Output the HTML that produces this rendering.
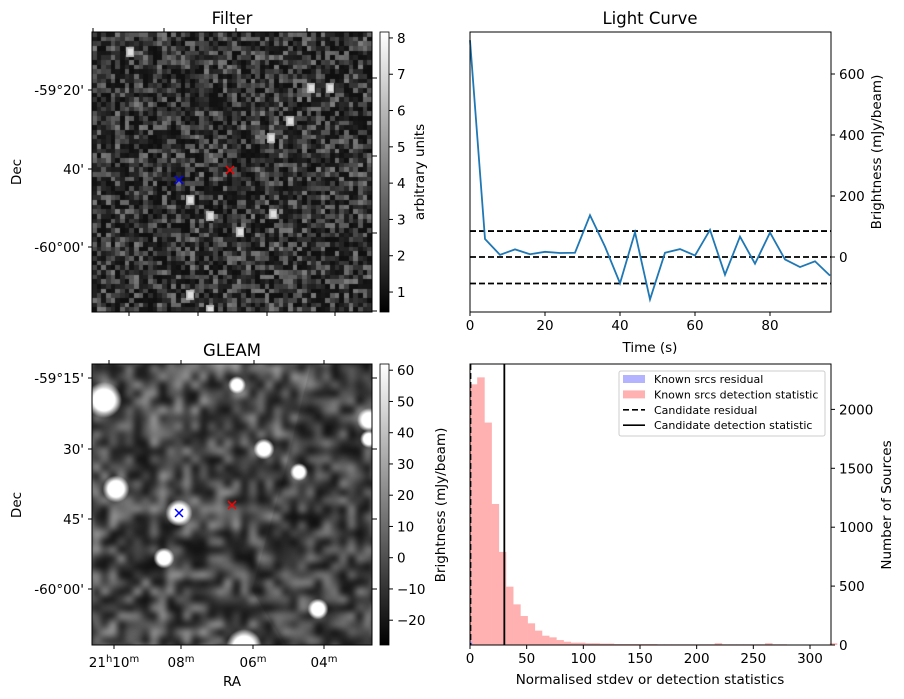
<!DOCTYPE html>
<html><head><meta charset="utf-8"><style>
body{margin:0;background:#fff;width:904px;height:699px;overflow:hidden;position:relative;font-family:"Liberation Sans","DejaVu Sans",sans-serif}
canvas{position:absolute}
svg{position:absolute;left:0;top:0}
text{font-family:"DejaVu Sans","Liberation Sans",sans-serif;fill:#000}
</style></head><body>
<canvas id="filterImg" width="280" height="280" style="left:92px;top:32px"></canvas>
<canvas id="gleamImg" width="280" height="281" style="left:92px;top:364px"></canvas>
<svg id="fig" width="904" height="699" viewBox="0 0 904 699">
<defs><linearGradient id="cb" x1="0" y1="1" x2="0" y2="0"><stop offset="0" stop-color="#000"/><stop offset="1" stop-color="#fff"/></linearGradient></defs>
<g id="g"></g>
</svg>
<script>
// ---- Light curve data ----
const lcTimes=[0,4,8,12,16,20,24,28,32,36,40,44,48,52,56,60,64,68,72,76,80,84,88,92,96];
const lcValues=[711,59,7,25,9,17,13,14,137,34,-86,81,-139,14,26,5,89,-58,67,-22,80,-8,-33,-14,-61];
const lcThresholds=[85,0,-87];
const lcXTicks=[0,20,40,60,80];
const lcYTicks=[0,200,400,600];
// ---- Histogram data ----
const histBinWidth=6.35;
const histCounts=[2213,2272,1888,1197,790,495,345,246,184,122,79,65,42,28,20,20,15,15,12,12,8,8,8,8,8,8,6,6,6,6,6,6,6,6,15,6,6,6,6,6,6,15,6,6,0,0,0,0,0,0,15];
const residCounts=[30,5];
const candResidual=0.5;
const candDetection=30.3;
const histXTicks=[0,50,100,150,200,250,300];
const histYTicks=[0,500,1000,1500,2000];
const filterCbTicks=[1,2,3,4,5,6,7,8];
const gleamCbTicks=[-20,-10,0,10,20,30,40,50,60];

const NS='http://www.w3.org/2000/svg';
const G=document.getElementById('g');
function el(tag,attrs,parent){const e=document.createElementNS(NS,tag);for(const k in attrs)e.setAttribute(k,attrs[k]);(parent||G).appendChild(e);return e;}
function txt(x,y,s,size,anchor,extra){const t=el('text',Object.assign({x:x,y:y,'font-size':size,'text-anchor':anchor||'middle'},extra||{}));t.textContent=s;return t;}

// textures (seeded)
let seed=12345;function rnd(){seed=(seed*1103515245+12345)&0x7fffffff;return seed/0x7fffffff;}
(function(){const c=document.getElementById('filterImg').getContext('2d');const n=60,s=280/n;
const tmp=document.createElement('canvas');tmp.width=n;tmp.height=n;const t=tmp.getContext('2d');
for(let i=0;i<n;i++)for(let j=0;j<n;j++){const r=rnd();const v=Math.round(15+110*Math.pow(r,2.0));t.fillStyle=`rgb(${v},${v},${v})`;t.fillRect(i,j,1,1);}
c.imageSmoothingEnabled=false;c.drawImage(tmp,0,0,280,280);
[[271-92,138-32],[311-92,88-32],[330-92,88-32],[210-92,216-32],[190-92,200-32],[273-92,214-32],[130-92,52-32],[190-92,295-32],[210-92,310-32],[290-92,121-32],[240-92,232-32]].forEach(p=>{c.fillStyle='#bbb';c.fillRect(p[0]-4,p[1]-5,8,10);c.fillStyle='#e0e0e0';c.fillRect(p[0]-2,p[1]-3,5,6);});
})();
(function(){const cv=document.getElementById('gleamImg');const c=cv.getContext('2d');const n=36;
const tmp=document.createElement('canvas');tmp.width=n;tmp.height=n;const t=tmp.getContext('2d');
for(let i=0;i<n;i++)for(let j=0;j<n;j++){const v=Math.round(15+150*Math.pow(rnd(),1.5));t.fillStyle=`rgb(${v},${v},${v})`;t.fillRect(i,j,1,1);}
c.imageSmoothingEnabled=true;c.filter='blur(2px)';c.drawImage(tmp,-8,-8,296,297);c.filter='none';
c.fillStyle='rgba(0,0,0,0.12)';c.beginPath();c.moveTo(219,0);c.lineTo(193,106);c.lineTo(160,226);c.lineTo(193,281);c.lineTo(280,281);c.lineTo(280,0);c.fill();
const blobs=[[12,36,12],[24,125,9],[145,21,6],[172,85,7],[207,108,6],[72,194,7],[226,245,7],[152,283,12],[277,56,8],[277,75,6],[87,149,9]];
blobs.forEach(b=>{const g=c.createRadialGradient(b[0],b[1],0,b[0],b[1],b[2]*1.5);g.addColorStop(0,'#fff');g.addColorStop(0.6,'#fff');g.addColorStop(1,'rgba(255,255,255,0)');c.fillStyle=g;c.beginPath();c.arc(b[0],b[1],b[2]*1.5,0,7);c.fill();});
})();

function cross(x,y,col,name){const g=el('g',{});
el('line',{x1:x-4,y1:y-4,x2:x+4,y2:y+4,stroke:col,'stroke-width':1.5},g);el('line',{x1:x-4,y1:y+4,x2:x+4,y2:y-4,stroke:col,'stroke-width':1.5},g);}

// ===== Filter panel =====
el('rect',{x:92,y:32,width:280,height:280,fill:'none',stroke:'#000','stroke-width':1});
txt(232,24,'Filter',16.5);
[93,164,236,307].forEach(x=>el('line',{x1:x,y1:32,x2:x,y2:28,stroke:'#000'}));
[129,198,267,335].forEach(x=>el('line',{x1:x,y1:312,x2:x,y2:316,stroke:'#000'}));
[[90,"-59°20'"],[169,"40'"],[247,"-60°00'"]].forEach(d=>{el('line',{x1:92,y1:d[0],x2:88,y2:d[0],stroke:'#000'});txt(84,d[0]+5,d[1],13.5,'end');});
[78,156,233,311].forEach(y=>el('line',{x1:372,y1:y,x2:377,y2:y,stroke:'#000'}));
txt(21,172,'Dec',13.5,'middle',{transform:'rotate(-90 21 172)'});
cross(179,180,'#00f','candidate-marker-blue');cross(230,170,'#f00','candidate-marker-red');
el('rect',{x:380,y:32,width:9,height:280,fill:'url(#cb)',stroke:'#000','stroke-width':0.8});
filterCbTicks.forEach(v=>{const y=312-(v-0.45)*36.3;el('line',{x1:389,y1:y,x2:393,y2:y,stroke:'#000'});txt(397,y+5,String(v),13.5,'start');});
txt(424,172,'arbitrary units',13.5,'middle',{transform:'rotate(-90 424 172)'});

// ===== GLEAM panel =====
el('rect',{x:92,y:364,width:280,height:281,fill:'none',stroke:'#000'});
txt(232,356,'GLEAM',16.5);
[109,181,254,324].forEach(x=>el('line',{x1:x,y1:364,x2:x,y2:360,stroke:'#000'}));
[[114,'21','h','10','m'],[181,'','','08','m'],[253,'','','06','m'],[324,'','','04','m']].forEach(d=>{el('line',{x1:d[0],y1:645,x2:d[0],y2:649,stroke:'#000'});
 const t=el('text',{x:d[0],y:667,'font-size':13.5,'text-anchor':'middle'});
 if(d[1]){const a=el('tspan',{},t);a.textContent='21';const b=el('tspan',{dy:-5,'font-size':10},t);b.textContent='h';const c=el('tspan',{dy:5},t);c.textContent='10';const e=el('tspan',{dy:-5,'font-size':10},t);e.textContent='m';}
 else{const a=el('tspan',{},t);a.textContent=d[3];const b=el('tspan',{dy:-5,'font-size':10},t);b.textContent='m';}});
[[378,"-59°15'"],[449,"30'"],[519,"45'"],[589,"-60°00'"]].forEach(d=>{el('line',{x1:92,y1:d[0],x2:88,y2:d[0],stroke:'#000'});el('line',{x1:372,y1:d[0],x2:377,y2:d[0],stroke:'#000'});txt(84,d[0]+5,d[1],13.5,'end');});
txt(21,505,'Dec',13.5,'middle',{transform:'rotate(-90 21 505)'});
txt(232,686,'RA',13.5);
cross(179,513,'#00f','gleam-marker-blue');cross(232,505,'#f00','gleam-marker-red');
el('rect',{x:380,y:364,width:9,height:281,fill:'url(#cb)',stroke:'#000','stroke-width':0.8});
gleamCbTicks.forEach(v=>{const y=557.7-v*3.125;el('line',{x1:389,y1:y,x2:393,y2:y,stroke:'#000'});txt(397,y+5,v<0?'\u2212'+(-v):String(v),13.5,'start');});
txt(445,505,'Brightness (mJy/beam)',13.5,'middle',{transform:'rotate(-90 445 505)'});

// ===== Light curve =====
const lx=t=>470+t*3.75, ly=v=>257-v*0.305;
txt(650,24,'Light Curve',16.5);
lcThresholds.forEach((v,i)=>{const l=el('line',{x1:470,x2:831,y1:ly(v),y2:ly(v),stroke:'#000','stroke-width':1.8,'stroke-dasharray':'6,3'});});
const lc=el('polyline',{points:lcTimes.map((t,i)=>lx(t)+','+ly(lcValues[i])).join(' '),fill:'none',stroke:'#1f77b4','stroke-width':1.8});

el('rect',{x:470,y:32,width:361,height:280,fill:'none',stroke:'#000'});
lcXTicks.forEach(t=>{el('line',{x1:lx(t),y1:312,x2:lx(t),y2:316,stroke:'#000'});txt(lx(t),330,String(t),13.5);});
lcYTicks.forEach(v=>{el('line',{x1:831,y1:ly(v),x2:835,y2:ly(v),stroke:'#000'});txt(839,ly(v)+5,String(v),13.5,'start');});
txt(650,352,'Time (s)',13.5);
txt(881,152,'Brightness (mJy/beam)',13.5,'middle',{transform:'rotate(-90 881 152)'});

// ===== Histogram =====
const hx=v=>470+v*1.1333, hy=c=>645-c*0.1178;
histCounts.forEach((c,i)=>{if(!c)return;const r=el('rect',{x:hx(i*histBinWidth),y:hy(c),width:histBinWidth*1.1333+0.3,height:c*0.1178,fill:'#ffb1b1'});});
residCounts.forEach((c,i)=>{const r=el('rect',{x:hx(i*2),y:hy(c),width:2.3,height:c*0.1178,fill:'#b4a0ff'});});
const cr=el('line',{x1:hx(candResidual),x2:hx(candResidual),y1:364,y2:645,stroke:'#000','stroke-width':1.6,'stroke-dasharray':'6,3'});
const cd=el('line',{x1:hx(candDetection),x2:hx(candDetection),y1:364,y2:645,stroke:'#000','stroke-width':1.8});
el('rect',{x:470,y:364,width:361,height:281,fill:'none',stroke:'#000'});
histXTicks.forEach(v=>{el('line',{x1:hx(v),y1:645,x2:hx(v),y2:649,stroke:'#000'});txt(hx(v),663,String(v),13.5);});
histYTicks.forEach(c=>{el('line',{x1:831,y1:hy(c),x2:835,y2:hy(c),stroke:'#000'});txt(839,hy(c)+5,String(c),13.5,'start');});
txt(650,684,'Normalised stdev or detection statistics',13.5);
txt(891,505,'Number of Sources',13.5,'middle',{transform:'rotate(-90 891 505)'});
// legend
const lg=el('g',{});
el('rect',{x:619,y:371,width:206,height:65,rx:2,fill:'#fff','fill-opacity':0.8,stroke:'#ccc'},lg);
const items=[['Known srcs residual','patch','#b3b3ff'],['Known srcs detection statistic','patch','#ffb1b1'],['Candidate residual','dash'],['Candidate detection statistic','solid']];
items.forEach((it,i)=>{const y=379+i*15.4;const e=el('g',{},lg);
 if(it[1]==='patch')el('rect',{x:623,y:y-4,width:22,height:8,fill:it[2]},e);
 else el('line',{x1:623,x2:645,y1:y,y2:y,stroke:'#000','stroke-width':1.6,'stroke-dasharray':it[1]==='dash'?'6,3':''},e);
 const t=el('text',{x:654,y:y+4,'font-size':11},e);t.textContent=it[0];});
</script>
</body></html>
